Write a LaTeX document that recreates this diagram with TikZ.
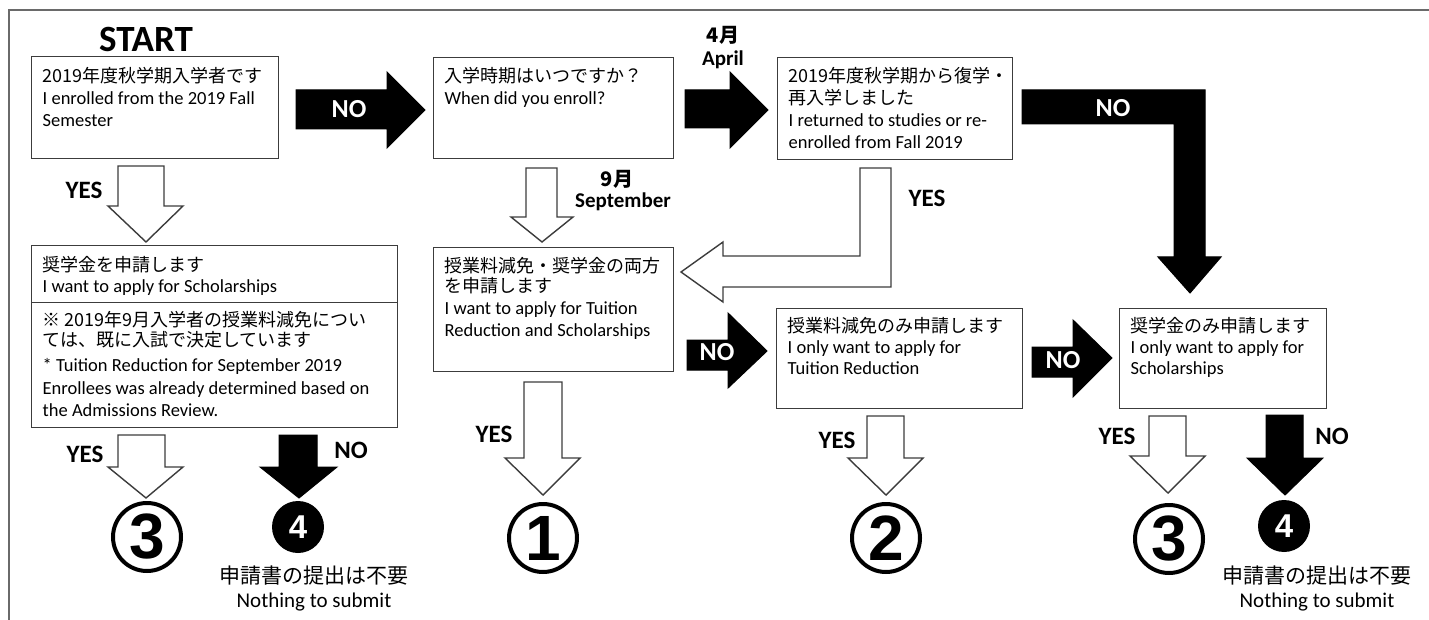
\documentclass[tikz,border=0pt]{standalone}
\usepackage{fontspec}
\setmainfont{Carlito}
\newfontfamily\jpfont{Noto Sans CJK JP}
\newfontfamily\numfont{Liberation Sans}
\definecolor{linec}{HTML}{3C3C3C}
\definecolor{framec}{HTML}{6A6A6A}
\newcommand\jp[2][18]{{\jpfont\fontsize{#1}{22}\selectfont #2}}
\newcommand\bxc[4]{\begin{minipage}[c][#2pt][t]{#1pt}\lineskiplimit=-30pt\fontsize{18.5}{22}\selectfont\rule{0pt}{#3pt}#4\end{minipage}}
% down arrow: style, shaft-left, shaft-right, head-left, head-right, tip-x, y-top, y-base, y-tip
\newcommand\barD[9]{\draw[#1] (#2,#7) -- (#3,#7) -- (#3,#8) -- (#5,#8) -- (#6,#9) -- (#4,#8) -- (#2,#8) -- cycle;}
% right arrow: style, shaft-top, shaft-bottom, head-top, head-bottom, tip-y, x-tail, x-base, x-tip
\newcommand\barR[9]{\draw[#1] (#7,#2) -- (#8,#2) -- (#8,#4) -- (#9,#6) -- (#8,#5) -- (#8,#3) -- (#7,#3) -- cycle;}
\tikzset{
  box/.style={draw=linec, line width=1.4pt, inner xsep=11pt, inner ysep=0pt, anchor=north west, fill=white},
  wa/.style={draw=linec, fill=white, line width=1.4pt, line join=miter},
  ba/.style={draw=black, fill=black, line width=1pt},
  lab/.style={font=\bfseries\fontsize{25}{25}\selectfont, anchor=base, inner sep=0pt},
  wlab/.style={lab, text=white, font=\bfseries\fontsize{26}{26}\selectfont},
  mlab/.style={font=\bfseries\fontsize{21}{21}\selectfont, anchor=base, inner sep=0pt},
  ring/.style={circle, draw=black, line width=4pt, minimum size=68pt, inner sep=0pt, font=\numfont\bfseries\fontsize{64}{64}\selectfont},
  dot/.style={circle, fill=black, minimum size=52pt, inner sep=0pt, text=white, font=\numfont\bfseries\fontsize{33}{33}\selectfont},
  jplab/.style={anchor=base, inner sep=0pt, font=\jpfont\fontsize{21}{21}\selectfont},
  enlab/.style={anchor=base, inner sep=0pt, font=\fontsize{21}{21}\selectfont}
}
\begin{document}
\begin{tikzpicture}[x=1pt,y=-1pt]
\useasboundingbox (0,0) rectangle (1429,620);
\fill[white] (0,0) rectangle (1429,620);
\draw[framec, line width=2.6pt] (9,620) -- (9,10) -- (1429,10);

\node[anchor=base, inner sep=0pt, font=\bfseries\fontsize{37}{37}\selectfont] (start) at (146,52) {START};

% boxes
\node[box] (b1) at (31,56) {\bxc{225}{102}{26}{\jp{2019年度秋学期入学者です}\\I enrolled from the 2019 Fall\\Semester}};
\node[box] (b2) at (433,57) {\bxc{218}{101}{25}{\jp{入学時期はいつですか？}\\When did you enroll?}};
\node[box] (b3) at (777,57) {\bxc{213}{102}{25}{\jp{2019年度秋学期から復学・}\\\jp{再入学しました}\\I returned to studies or re-\\enrolled from Fall 2019}};
\node[box] (b4a) at (31,245) {\bxc{344}{57}{26}{\jp{奨学金を申請します}\\[-1pt]I want to apply for Scholarships}};
\node[box] (b4b) at (31,302) {\bxc{344}{125}{24}{\jp{※ 2019年9月入学者の授業料減免につい}\\[-2pt]\jp{ては、既に入試で決定しています}\\[3pt]* Tuition Reduction for September 2019\\[1pt]Enrollees was already determined based on\\the Admissions Review.}};
\node[box] (b5) at (433,247) {\bxc{218}{124}{25}{\jp{授業料減免・奨学金の両方}\\[-2pt]\jp{を申請します}\\I want to apply for Tuition\\Reduction and Scholarships}};
\node[box] (b6) at (776,308) {\bxc{224}{100}{24}{\jp{授業料減免のみ申請します}\\[-1pt]I only want to apply for\\[-1pt]Tuition Reduction}};
\node[box] (b7) at (1119,308) {\bxc{185}{100}{24}{\jp{奨学金のみ申請します}\\[-1pt]I only want to apply for\\[-1pt]Scholarships}};

% black right arrows
\barR{ba}{90}{129}{72}{148}{110}{296}{387}{425}
\barR{ba}{90}{128}{72}{148}{110}{685}{730}{768}
\barR{ba}{340}{370}{313}{388}{351}{687}{728}{767}
\barR{ba}{347}{377}{320}{397}{358}{1032}{1073}{1112}
% L-shaped arrows
\draw[ba] (1022,90) -- (1205,90) -- (1205,257) -- (1221,257) -- (1190,293) -- (1158,257) -- (1174,257) -- (1174,124) -- (1022,124) -- cycle;
\draw[wa] (860,168) -- (891,168) -- (891,287) -- (723,287) -- (723,302) -- (681,272) -- (723,242) -- (723,256) -- (860,256) -- cycle;
% down arrows
\barD{wa}{118}{164}{108}{183}{146}{166}{206}{242}
\barD{wa}{526}{557}{511}{573}{542}{168}{217}{242}
\barD{wa}{118}{165}{108}{183}{146}{435}{467}{498}
\barD{ba}{279}{317}{260}{337}{299}{435}{467}{498}
\barD{wa}{524}{562}{505}{580}{543}{382}{458}{495}
\barD{wa}{867}{904}{848}{923}{886}{416}{458}{495}
\barD{wa}{1149}{1186}{1130}{1205}{1168}{416}{456}{493}
\barD{ba}{1266}{1303}{1247}{1323}{1285}{415}{458}{495}

% arrow labels
\node[wlab] (n1) at (349,118) {NO};
\node[mlab, font=\jpfont\bfseries\fontsize{20}{20}\selectfont] (apr1) at (723,43) {4月};
\node[mlab] (apr2) at (723,66) {April};
\node[wlab] (n2) at (1113,117) {NO};
\node[lab] (y1) at (84,199) {YES};
\node[mlab, font=\jpfont\bfseries\fontsize{20}{20}\selectfont] (sep1) at (617,187) {9月};
\node[mlab] (sep2) at (623,208) {September};
\node[lab] (y2) at (927,207) {YES};
\node[wlab] (n3) at (717,360) {NO};
\node[wlab] (n4) at (1063,368) {NO};
\node[lab] (y3) at (85,462) {YES};
\node[lab] (n5) at (351,458) {NO};
\node[lab] (y4) at (494,442) {YES};
\node[lab] (y5) at (837,448) {YES};
\node[lab] (y6) at (1117,444) {YES};
\node[lab] (n6) at (1332,444) {NO};

% outcomes
\node[ring] (c3a) at (147,537) {3};
\node[dot] (c4a) at (298,527) {4};
\node[ring] (c1) at (543,538) {1};
\node[ring] (c2) at (886,538) {2};
\node[ring] (c3b) at (1169,539) {3};
\node[dot] (c4b) at (1284,526) {4};
\node[jplab] (t1a) at (314,583) {申請書の提出は不要};
\node[enlab] (t1b) at (314,607) {Nothing to submit};
\node[jplab] (t2a) at (1317,583) {申請書の提出は不要};
\node[enlab] (t2b) at (1317,607) {Nothing to submit};
\end{tikzpicture}
\end{document}
